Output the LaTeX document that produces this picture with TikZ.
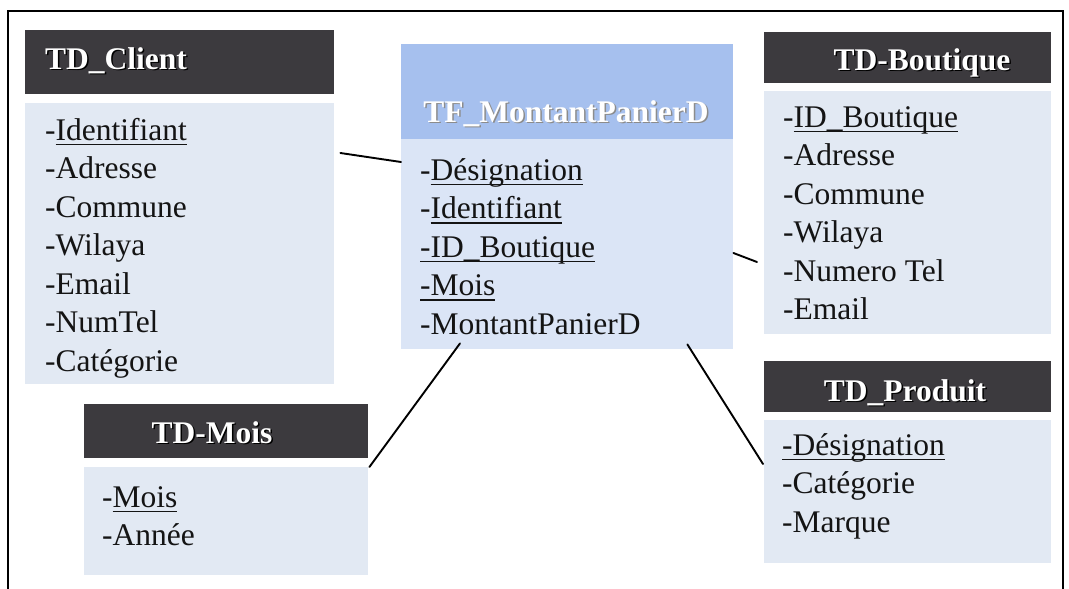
\documentclass[tikz,border=0pt]{standalone}
\usepackage{fontspec}
\setmainfont{Liberation Serif}
\usetikzlibrary{calc}

\definecolor{hdark}{RGB}{60,58,62}
\definecolor{bodyblue}{RGB}{226,233,243}
\definecolor{facthead}{RGB}{166,192,238}
\definecolor{factbody}{RGB}{219,229,246}

% underlined key attribute
\newcommand\keyul[1]{\setbox0\hbox{#1}\rlap{\vrule width\wd0 height -3.6pt depth 5.1pt}\box0}

\tikzset{
  hdr/.style={fill=hdark, draw=none, inner sep=0pt, anchor=north west},
  tablebody/.style={fill=bodyblue, draw=none, inner sep=0pt, anchor=north west},
  ttl/.style={inner sep=0pt, text=white, font=\bfseries\fontsize{31.5}{38}\selectfont},
  shd/.style={ttl, text=black},
  attr/.style={anchor=base west, inner sep=0pt, text=black!92, font=\fontsize{31.5}{38}\selectfont},
  link/.style={line width=1.9pt, line cap=round},
  frame/.style={line width=2pt},
}

\begin{document}
\begin{tikzpicture}[x=1pt,y=-1pt]
\useasboundingbox (0,0) rectangle (1069,589);
\fill[white] (0,0) rectangle (1069,589);

% outer frame (open at the bottom)
\draw[frame] (8,592) -- (8,11) -- (1063,11) -- (1063,592);

% ---------- TD_Client ----------
\node[hdr, minimum width=309pt, minimum height=64pt] (clienthead) at (25,30) {};
\node[tablebody, minimum width=309pt, minimum height=281pt] (clientbody) at (25,103) {};
\node[shd, anchor=base west] (clientshd) at (46.5,70.5) {TD\_Client};
\node[ttl, anchor=base west] (clienttitle) at (45,69) {TD\_Client};
\node[attr] (c1) at (45,140) {-\keyul{Identifiant}};
\node[attr] (c2) at (45,178.5) {-Adresse};
\node[attr] (c3) at (45,217) {-Commune};
\node[attr] (c4) at (45,255.5) {-Wilaya};
\node[attr] (c5) at (45,294) {-Email};
\node[attr] (c6) at (45,332.5) {-NumTel};
\node[attr] (c7) at (45,371) {-Catégorie};

% ---------- TF_MontantPanierD ----------
\node[hdr, fill=facthead, minimum width=332pt, minimum height=95pt] (facthd) at (401,44) {};
\node[tablebody, fill=factbody, minimum width=332pt, minimum height=210pt] (factbody) at (401,139) {};
\node[shd, anchor=base, text=black!45] (factshd) at (567.5,123.5) {TF\_MontantPanierD};
\node[ttl, anchor=base] (facttitle) at (566,122) {TF\_MontantPanierD};
\node[attr] (f1) at (420,180) {-\keyul{Désignation}};
\node[attr] (f2) at (420,218.5) {-\keyul{Identifiant}};
\node[attr] (f3) at (420,257) {\keyul{-ID\_Boutique}};
\node[attr] (f4) at (420,295.5) {\keyul{-Mois}};
\node[attr] (f5) at (420,334) {-MontantPanierD};

% ---------- TD-Boutique ----------
\node[hdr, minimum width=287pt, minimum height=51pt] (bouthead) at (764,32) {};
\node[tablebody, minimum width=287pt, minimum height=243pt] (boutbody) at (764,91) {};
\node[shd, anchor=base] (boutshd) at (923.5,71.5) {TD-Boutique};
\node[ttl, anchor=base] (bouttitle) at (922,70) {TD-Boutique};
\node[attr] (b1) at (783,127) {-\keyul{ID\_Boutique}};
\node[attr] (b2) at (783,165.5) {-Adresse};
\node[attr] (b3) at (783,204) {-Commune};
\node[attr] (b4) at (783,242.5) {-Wilaya};
\node[attr] (b5) at (783,281) {-Numero Tel};
\node[attr] (b6) at (783,319.5) {-Email};

% ---------- TD_Produit ----------
\node[hdr, minimum width=287pt, minimum height=51pt] (prodhead) at (764,361) {};
\node[tablebody, minimum width=287pt, minimum height=143pt] (prodbody) at (764,420) {};
\node[shd, anchor=base] (prodshd) at (906.5,402.5) {TD\_Produit};
\node[ttl, anchor=base] (prodtitle) at (905,401) {TD\_Produit};
\node[attr] (p1) at (782,455) {\keyul{-Désignation}};
\node[attr] (p2) at (782,493.5) {-Catégorie};
\node[attr] (p3) at (782,532) {-Marque};

% ---------- TD-Mois ----------
\node[hdr, minimum width=284pt, minimum height=54pt] (moishead) at (84,404) {};
\node[tablebody, minimum width=284pt, minimum height=108pt] (moisbody) at (84,467) {};
\node[shd, anchor=base] (moisshd) at (213.5,444.5) {TD-Mois};
\node[ttl, anchor=base] (moistitle) at (212,443) {TD-Mois};
\node[attr] (m1) at (102,507) {-\keyul{Mois}};
\node[attr] (m2) at (102,545.5) {-Année};

% ---------- links between the fact table and the dimensions ----------
\draw[link] ([xshift=6pt,yshift=-50pt]clientbody.north east) -- ([yshift=-23pt]factbody.north west);
\draw[link] ([yshift=-114pt]factbody.north east) -- ([xshift=-7pt,yshift=-171pt]boutbody.north west);
\draw[link] ([xshift=59pt,yshift=6pt]factbody.south west) -- ([xshift=1pt]moisbody.north east);
\draw[link] ([xshift=-46pt,yshift=5pt]factbody.south east) -- ([xshift=-1pt,yshift=-44pt]prodbody.north west);
\end{tikzpicture}
\end{document}
